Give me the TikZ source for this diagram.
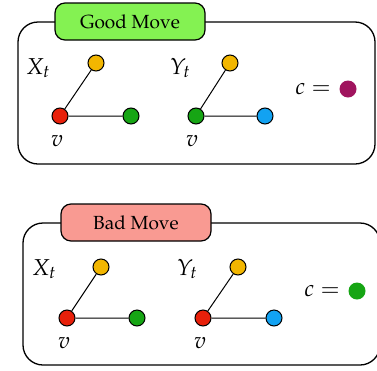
\documentclass[tikz,border=0pt]{standalone}
\usepackage[T1]{fontenc}
\usepackage{mathpazo}
\definecolor{vred}{HTML}{E8200A}
\definecolor{vorange}{HTML}{F2B600}
\definecolor{vgreen}{HTML}{16A514}
\definecolor{vblue}{HTML}{12A2F2}
\definecolor{vpurple}{HTML}{A0145E}
\definecolor{goodfill}{HTML}{84F252}
\definecolor{badfill}{HTML}{F99A92}
\begin{document}
\begin{tikzpicture}[x=1pt,y=-1pt,
  vtx/.style={circle,draw,line width=1pt,minimum size=16pt,inner sep=0pt},
  dot/.style={circle,minimum size=17pt,inner sep=0pt},
  lbl/.style={inner sep=0pt,font=\fontsize{23}{26}\selectfont},
  tag/.style={draw,line width=1.2pt,rounded corners=10pt,minimum width=150pt,minimum height=37pt,font=\fontsize{19}{22}\selectfont}]
\useasboundingbox (0,0) rectangle (377,370);

% good move
\draw[line width=1.3pt,rounded corners=20pt] (18,22) rectangle (375,164);
\node[tag,fill=goodfill](good) at (130,21.5) {Good Move};

\node[vtx,fill=vred](1) at (60,116) {};
\node[vtx,fill=vorange](2) at (96,63) {};
\node[vtx,fill=vgreen](3) at (131,116) {};
\node[lbl](X1) at (38,68) {$X_t$};
\node[lbl](v1) at (57,141) {$v$};
\draw[line width=1pt] (2) -- (1) -- (3);

\node[vtx,fill=vgreen](4) at (196,116) {};
\node[vtx,fill=vorange](5) at (230,63) {};
\node[vtx,fill=vblue](6) at (265,116) {};
\node[lbl](Y1) at (180,68) {$Y_t$};
\node[lbl](v2) at (192,141) {$v$};
\draw[line width=1pt] (5) -- (4) -- (6);

\node[lbl](c1) at (313,89) {$c=$};
\node[dot,fill=vpurple](d1) at (348,89) {};

% bad move
\draw[line width=1.3pt,rounded corners=20pt] (23,223) rectangle (380,365);
\node[tag,fill=badfill](bad) at (136,222.5) {Bad Move};

\node[vtx,fill=vred](1n) at (67,318) {};
\node[vtx,fill=vorange](2n) at (101,267) {};
\node[vtx,fill=vgreen](3n) at (137,318) {};
\node[lbl](X2) at (44,269) {$X_t$};
\node[lbl](v3) at (64,343) {$v$};
\draw[line width=1pt] (2n) -- (1n) -- (3n);

\node[vtx,fill=vred](4n) at (203,318) {};
\node[vtx,fill=vorange](5n) at (238,267) {};
\node[vtx,fill=vblue](6n) at (274,318) {};
\node[lbl](Y2) at (187,269) {$Y_t$};
\node[lbl](v4) at (200,343) {$v$};
\draw[line width=1pt] (5n) -- (4n) -- (6n);

\node[lbl](c2) at (322,291) {$c=$};
\node[dot,fill=vgreen](d2) at (357,291) {};

\end{tikzpicture}
\end{document}
